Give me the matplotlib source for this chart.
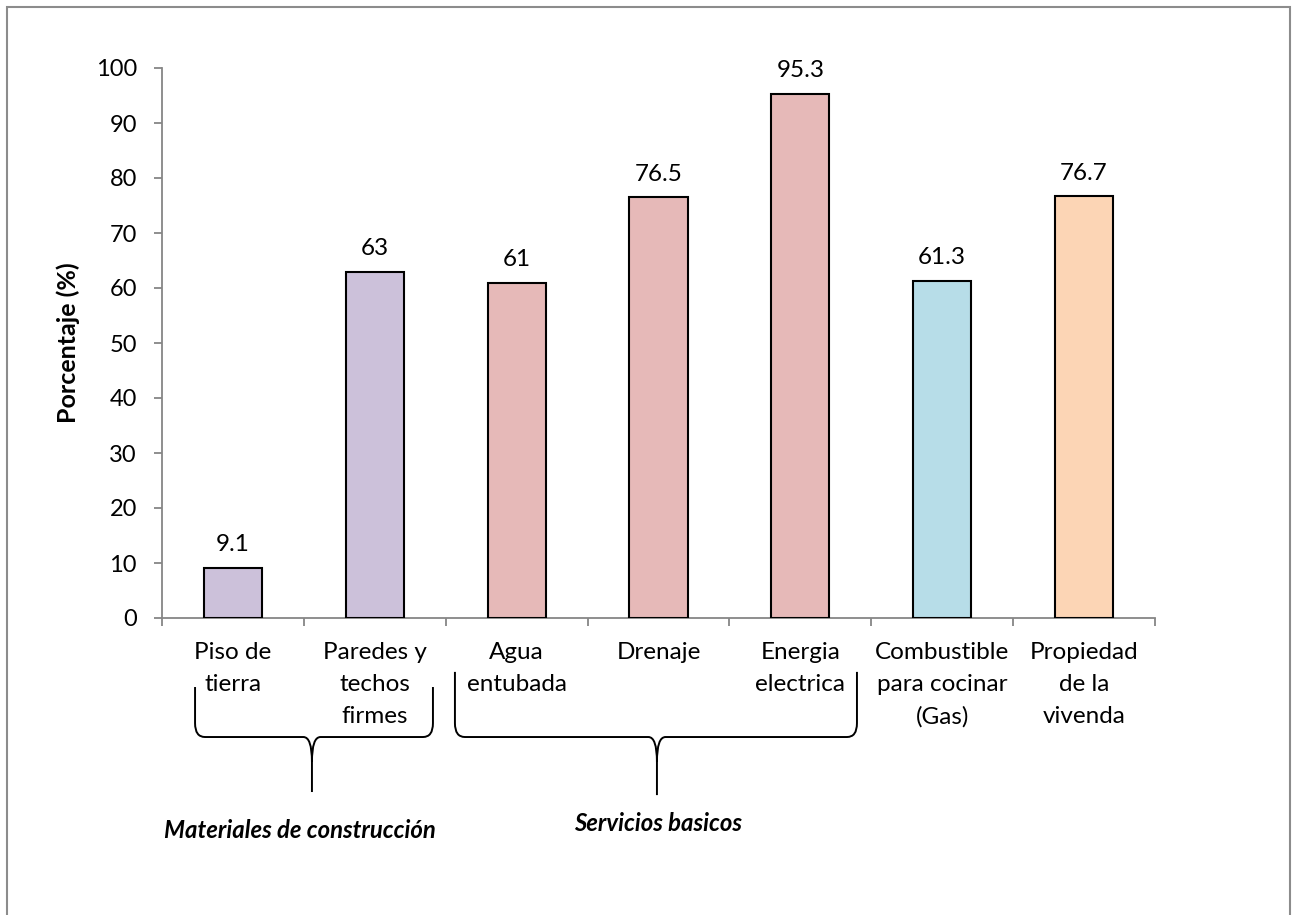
import numpy as np
import matplotlib.pyplot as plt
from matplotlib.path import Path
from matplotlib.patches import PathPatch, Rectangle
import matplotlib.transforms as mtransforms

plt.rcParams['font.family'] = ['Lato', 'DejaVu Sans']

#### data ####
categories = ['Piso de\ntierra', 'Paredes y\ntechos\nfirmes', 'Agua\nentubada', 'Drenaje',
              'Energia\nelectrica', 'Combustible\npara cocinar\n(Gas)', 'Propiedad\nde la\nvivenda']
values = [9.1, 63, 61, 76.5, 95.3, 61.3, 76.7]
value_labels = ['9.1', '63', '61', '76.5', '95.3', '61.3', '76.7']
bar_colors = ['#CCC1DA', '#CCC1DA', '#E6B9B8', '#E6B9B8', '#E6B9B8', '#B7DDE8', '#FCD5B5']
groups = ['Materiales de construcción', 'Servicios basicos']

#### figure ####
W, H = 1298, 915
fig = plt.figure(figsize=(W / 100, H / 100), dpi=100)
ax = fig.add_axes([162 / W, 1 - 618 / H, (1155 - 162) / W, 550 / H])

# outer frame (bottom edge falls off the picture)
fig.patches.append(Rectangle((7 / W, -0.05), (1290 - 7) / W, 1 - 7 / H + 0.05,
                             transform=fig.transFigure, fill=False,
                             edgecolor='#8c8c8c', linewidth=1.5))

x = np.arange(len(categories))
ax.bar(x, values, width=0.41, color=bar_colors, edgecolor='black', linewidth=1.5, zorder=3)

for xi, v, lab in zip(x, values, value_labels):
    ax.annotate(lab, (xi, v), xytext=(0, 9), textcoords='offset points',
                ha='center', va='bottom', fontsize=17.5)

ax.set_xlim(-0.5, len(categories) - 0.5)
ax.set_ylim(0, 100)
ax.set_yticks(np.arange(0, 101, 10))
ax.set_xticks(x)
ax.set_xticklabels(categories, fontsize=17.5, linespacing=1.65)
ax.set_xticks(np.arange(-0.5, len(categories), 1), minor=True)
ax.tick_params(axis='x', which='major', length=0, pad=17)
ax.tick_params(axis='x', which='minor', length=6, color='#868686', width=1.3)
ax.tick_params(axis='y', length=6, color='#868686', width=1.3, labelsize=17, pad=12)

for s in ['top', 'right']:
    ax.spines[s].set_visible(False)
for s in ['left', 'bottom']:
    ax.spines[s].set_color('#868686')
    ax.spines[s].set_linewidth(1.3)

ax.set_ylabel('Porcentaje (%)', fontsize=18, fontweight='bold', labelpad=11)

#### braces under the labels ####
trans = mtransforms.blended_transform_factory(ax.transData, ax.transAxes)


def brace(xl, xr, xc, yt, yh, yb):
    dx, dy = 0.07, 0.025    # outer corners
    cx, cy = 0.06, 0.045    # cusp in the middle
    verts = [(xl, yt), (xl, yh + dy), (xl, yh), (xl + dx, yh), (xc - cx, yh), (xc, yh), (xc, yh - cy), (xc, yb),
             (xr, yt), (xr, yh + dy), (xr, yh), (xr - dx, yh), (xc + cx, yh), (xc, yh), (xc, yh - cy)]
    codes = [Path.MOVETO, Path.LINETO, Path.CURVE3, Path.CURVE3, Path.LINETO, Path.CURVE3, Path.CURVE3, Path.LINETO,
             Path.MOVETO, Path.LINETO, Path.CURVE3, Path.CURVE3, Path.LINETO, Path.CURVE3, Path.CURVE3]
    p = PathPatch(Path(verts, codes), transform=trans, fill=False, edgecolor='black',
                  linewidth=1.4, clip_on=False)
    ax.add_patch(p)


brace(-0.267, 1.410, 0.557, -0.1255, -0.2164, -0.3164)
brace(1.565, 4.399, 2.989, -0.098, -0.2164, -0.322)

ax.text(0.473, -0.387, groups[0], transform=trans, ha='center', va='center',
        fontsize=17.2, fontweight='bold', style='italic')
ax.text(2.996, -0.373, groups[1], transform=trans, ha='center', va='center',
        fontsize=17.2, fontweight='bold', style='italic')

fig.savefig('out.png', dpi=100)
